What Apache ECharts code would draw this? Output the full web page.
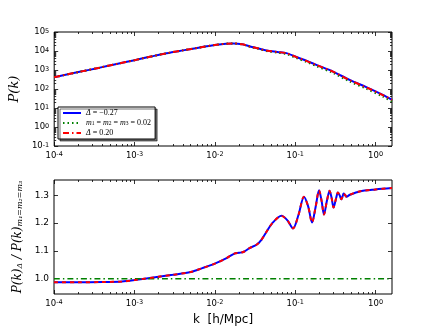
<!DOCTYPE html>
<html>
<head>
<meta charset="utf-8">
<script src="https://cdn.jsdelivr.net/npm/echarts@6/dist/echarts.min.js"></script>
<style>
  html, body { margin: 0; background: #fff; }
  #chart { width: 436px; height: 327px; }
</style>
</head>
<body>
<div id="chart"></div>
<script>
// power spectrum, top panel
const kTop = [1e-4, 2e-4, 3.7e-4, 6e-4, 1e-3, 1.6e-3, 2.5e-3, 4e-3, 6.5e-3, 0.0105, 0.0169, 0.022,
  0.0272, 0.035, 0.0438, 0.06, 0.0777, 0.1035, 0.14, 0.183, 0.295, 0.475, 0.766, 1.23, 1.6]
const pNeg = [420, 780, 1330, 2080, 3300, 5100, 7600, 10800, 15300, 21500, 25100, 22500,
  17400, 13500, 10700, 8900, 7700, 4800, 3000, 1870, 830, 300, 125, 49, 27]
const pNu = [420, 780, 1330, 2080, 3300, 5100, 7600, 10800, 15300, 21500, 25000, 22200,
  17000, 13000, 10000, 8200, 6900, 4200, 2600, 1600, 700, 250, 103, 40, 22]
const pPos = [420, 780, 1330, 2080, 3300, 5100, 7600, 10800, 15300, 21500, 25100, 22500,
  17300, 13400, 10600, 8800, 7600, 4750, 2950, 1840, 815, 295, 122, 48, 26.5]

// ratio, bottom panel
const kRatio = [1e-4, 2e-4, 4e-4, 7e-4, 1e-3, 2e-3, 3e-3, 5e-3, 7e-3, 0.01, 0.014, 0.0175, 0.02,
  0.023, 0.027, 0.033, 0.038, 0.044, 0.052, 0.0675, 0.08, 0.094, 0.11, 0.1285, 0.145, 0.162,
  0.18, 0.198, 0.213, 0.228, 0.248, 0.268, 0.284, 0.3, 0.32, 0.34, 0.357, 0.375, 0.39, 0.4,
  0.42, 0.435, 0.48, 0.63, 1.0, 1.6]
const rNeg = [0.987, 0.987, 0.988, 0.990, 0.995, 1.007, 1.014, 1.024, 1.038, 1.054, 1.074, 1.090, 1.093,
  1.097, 1.110, 1.122, 1.140, 1.169, 1.200, 1.226, 1.210, 1.181, 1.230, 1.295, 1.260, 1.202,
  1.260, 1.318, 1.280, 1.231, 1.280, 1.316, 1.290, 1.256, 1.285, 1.310, 1.300, 1.286, 1.298, 1.306,
  1.300, 1.295, 1.302, 1.314, 1.321, 1.326]
const rPos = [0.987, 0.987, 0.988, 0.990, 0.995, 1.007, 1.014, 1.024, 1.038, 1.054, 1.074, 1.090, 1.093,
  1.097, 1.110, 1.122, 1.140, 1.169, 1.200, 1.226, 1.210, 1.181, 1.230, 1.295, 1.260, 1.202,
  1.260, 1.318, 1.280, 1.231, 1.280, 1.316, 1.290, 1.256, 1.285, 1.310, 1.300, 1.286, 1.298, 1.306,
  1.300, 1.295, 1.302, 1.314, 1.321, 1.326]
const kFlat = [1e-4, 1.6]
const rFlat = [1.0, 1.0]

const xMajor = [1e-4, 1e-3, 1e-2, 1e-1, 1]
const yTopMajor = [1e-1, 1, 10, 100, 1e3, 1e4, 1e5]
const yBotMajor = [1.0, 1.1, 1.2, 1.3]

function minorsOf(decades, max) {
  const out = []
  decades.forEach((d) => {
    for (let m = 2; m <= 9; m++) if (d * m < max) out.push(d * m)
  })
  return out
}
const xMinor = minorsOf(xMajor, 1.6)
const yTopMinor = minorsOf(yTopMajor.slice(0, -1), 1e5)

const pair = (xs, ys) => xs.map((x, i) => [x, ys[i]])
const TICK_FONT = 'DejaVu Sans'
const SERIF = 'DejaVu Serif'
const LEG_FONT = 'Liberation Serif'

function powLabel(v) {
  return '10{s|' + Math.round(Math.log10(v)) + '}'
}

const labelStyle = {
  color: '#000',
  fontFamily: TICK_FONT,
  fontSize: 8.5,
  rich: { s: { fontSize: 6.5, fontFamily: TICK_FONT, color: '#000', verticalAlign: 'top', lineHeight: 6 } },
}

function axis(grid, pos, type, min, max, ticks, len, labels) {
  return {
    type,
    gridIndex: grid,
    position: pos,
    min,
    max,
    axisLine: { show: false, onZero: false },
    splitLine: { show: false },
    axisTick: { show: true, inside: true, length: len, customValues: ticks, lineStyle: { color: '#000', width: 0.8 } },
    axisLabel: labels
      ? Object.assign({ show: true, customValues: ticks, margin: 5, formatter: labels }, labelStyle)
      : { show: false },
  }
}

function xAxes(grid) {
  return [
    axis(grid, 'bottom', 'log', 1e-4, 1.6, xMajor, 4, powLabel),
    axis(grid, 'bottom', 'log', 1e-4, 1.6, xMinor, 2, null),
    axis(grid, 'top', 'log', 1e-4, 1.6, xMajor, 4, null),
    axis(grid, 'top', 'log', 1e-4, 1.6, xMinor, 2, null),
  ]
}

const xAxis = xAxes(0).concat(xAxes(1))
xAxis[4].name = 'k  [h/Mpc]'
xAxis[4].nameLocation = 'middle'
xAxis[4].nameGap = 20
xAxis[4].nameTextStyle = { fontFamily: TICK_FONT, fontSize: 12, color: '#000' }

const yAxis = [
  axis(0, 'left', 'log', 1e-1, 1e5, yTopMajor, 4, powLabel),
  axis(0, 'left', 'log', 1e-1, 1e5, yTopMinor, 2, null),
  axis(0, 'right', 'log', 1e-1, 1e5, yTopMajor, 4, null),
  axis(0, 'right', 'log', 1e-1, 1e5, yTopMinor, 2, null),
  axis(1, 'left', 'value', 0.945, 1.355, yBotMajor, 4, (v) => v.toFixed(1)),
  axis(1, 'right', 'value', 0.945, 1.355, yBotMajor, 4, null),
]
yAxis[4].axisLabel.fontSize = 9
yAxis[0].name = '{i|P(k)}'
yAxis[0].nameLocation = 'middle'
yAxis[0].nameRotate = 90
yAxis[0].nameGap = 24
yAxis[0].nameTextStyle = { rich: { i: { fontFamily: SERIF, fontStyle: 'italic', fontSize: 13, color: '#000' } } }
yAxis[4].name = '{i|P(k)}{s|Δ}{i| / P(k)}{s|m₁=m₂=m₃}'
yAxis[4].nameLocation = 'middle'
yAxis[4].nameRotate = 90
yAxis[4].nameGap = 25
yAxis[4].nameTextStyle = {
  rich: {
    i: { fontFamily: SERIF, fontStyle: 'italic', fontSize: 12, color: '#000' },
    s: { fontFamily: SERIF, fontStyle: 'italic', fontSize: 8, color: '#000', verticalAlign: 'bottom' },
  },
}

function line(name, x, y, data, color, type, width, z) {
  return {
    name,
    type: 'line',
    xAxisIndex: x,
    yAxisIndex: y,
    data,
    showSymbol: false,
    symbol: 'none',
    smooth: 0.3,
    z,
    lineStyle: { color, type, width },
    itemStyle: { color },
  }
}

const legendNames = {
  neg: '{i|Δ}{t| = −0.27}',
  nu: '{i|m}{s|1}{t| = }{i|m}{s|2}{t| = }{i|m}{s|3}{t| = 0.02}',
  pos: '{i|Δ}{t| = 0.20}',
}

const option = {
  animation: false,
  backgroundColor: '#fff',
  grid: [
    { left: 54, right: 44, top: 32, height: 114, show: true, borderColor: '#000', borderWidth: 1, backgroundColor: 'transparent' },
    { left: 54, right: 44, top: 180, height: 114, show: true, borderColor: '#000', borderWidth: 1, backgroundColor: 'transparent' },
  ],
  legend: {
    data: ['neg', 'nu', 'pos'],
    orient: 'vertical',
    left: 58,
    top: 107,
    itemWidth: 18,
    itemHeight: 8,
    itemGap: 2,
    padding: [2, 4, 2, 4],
    backgroundColor: '#fff',
    borderColor: '#000',
    borderWidth: 1,
    shadowColor: 'rgba(0,0,0,0.55)',
    shadowOffsetX: 2,
    shadowOffsetY: 2,
    shadowBlur: 0,
    itemStyle: { opacity: 0 },
    formatter: (n) => legendNames[n],
    textStyle: {
      rich: {
        i: { fontFamily: LEG_FONT, fontStyle: 'italic', fontSize: 8, color: '#000' },
        t: { fontFamily: LEG_FONT, fontSize: 8, color: '#000' },
        s: { fontFamily: LEG_FONT, fontSize: 5.5, color: '#000', verticalAlign: 'bottom' },
      },
    },
  },
  xAxis,
  yAxis,
  series: [
    line('neg', 0, 0, pair(kTop, pNeg), '#0000ff', 'solid', 2, 2),
    line('nu', 0, 0, pair(kTop, pNu), '#008000', [1.5, 3], 2, 3),
    line('pos', 0, 0, pair(kTop, pPos), '#ff0000', [6, 3, 1.5, 3], 2, 4),
    line('ratioNeg', 4, 4, pair(kRatio, rNeg), '#0000ff', 'solid', 2, 2),
    line('ratioNu', 4, 4, pair(kFlat, rFlat), '#008000', [6, 3, 1.5, 3], 1.5, 3),
    line('ratioPos', 4, 4, pair(kRatio, rPos), '#ff0000', [4, 4], 2, 4),
  ],
}

const chart = echarts.init(document.getElementById('chart'))
chart.setOption(option)
</script>
</body>
</html>
